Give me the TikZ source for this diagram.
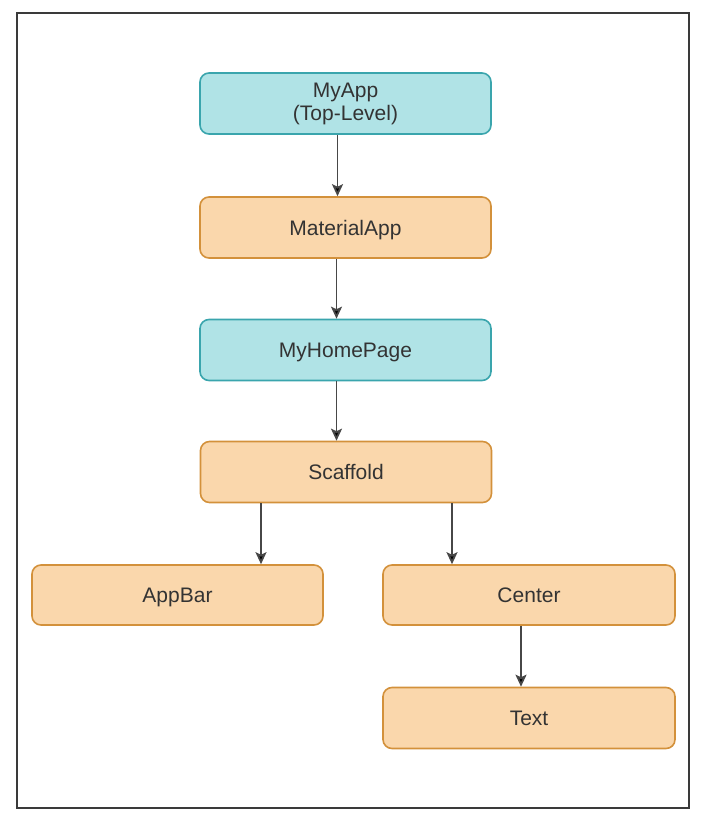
\documentclass[tikz,border=0pt]{standalone}
\usepackage{fontspec}
\setmainfont{Liberation Sans}
\usetikzlibrary{arrows.meta}
\definecolor{tealfill}{HTML}{B0E3E6}
\definecolor{tealdraw}{HTML}{3AA5AD}
\definecolor{orfill}{HTML}{FAD7AC}
\definecolor{ordraw}{HTML}{D3913B}
\definecolor{txt}{HTML}{333333}
\definecolor{frm}{HTML}{3A3A3A}
\tikzset{
  box/.style={rectangle, rounded corners=9pt, line width=1.6pt, minimum width=291pt,
    minimum height=61pt, inner sep=0pt, align=center, text=txt,
    text height=15pt, text depth=0pt,
    font=\fontsize{21}{23}\selectfont},
  tealbox/.style={box, fill=tealfill, draw=tealdraw},
  orbox/.style={box, fill=orfill, draw=ordraw},
  arr/.style={line width=1.8pt, draw=black!72, -{Stealth[length=12pt,width=11pt,inset=2.5pt,fill=black]}},
}
\begin{document}
\begin{tikzpicture}[x=1pt,y=-1pt]
\useasboundingbox (0,0) rectangle (720,821);
\draw[frm, line width=2pt] (16.5,13) rectangle (689,808);
\node[tealbox, text height=, text depth=] (myapp) at (345.5,103.5) {MyApp\\(Top-Level)};
\node[orbox] (matapp) at (345.5,227.5) {MaterialApp};
\node[tealbox] (home) at (345.5,350) {MyHomePage};
\node[orbox] (scaffold) at (346,472) {Scaffold};
\node[orbox, minimum height=60pt] (appbar) at (177.5,595) {AppBar};
\node[orbox, minimum height=60pt, minimum width=292pt] (center) at (529,595) {Center};
\node[orbox, minimum width=292pt] (text) at (529,718) {Text};
\draw[arr] ([xshift=-8pt]myapp.south) -- ([xshift=-8pt]matapp.north);
\draw[arr] ([xshift=-9pt]matapp.south) -- ([xshift=-9pt]home.north);
\draw[arr] ([xshift=-9pt]home.south) -- ([xshift=-9.5pt]scaffold.north);
\draw[arr] ([xshift=-85pt]scaffold.south) -- ([xshift=-85pt]scaffold.south |- appbar.north);
\draw[arr] ([xshift=106pt]scaffold.south) -- ([xshift=106pt]scaffold.south |- center.north);
\draw[arr] ([xshift=-8pt]center.south) -- ([xshift=-8pt]text.north);
\end{tikzpicture}
\end{document}
